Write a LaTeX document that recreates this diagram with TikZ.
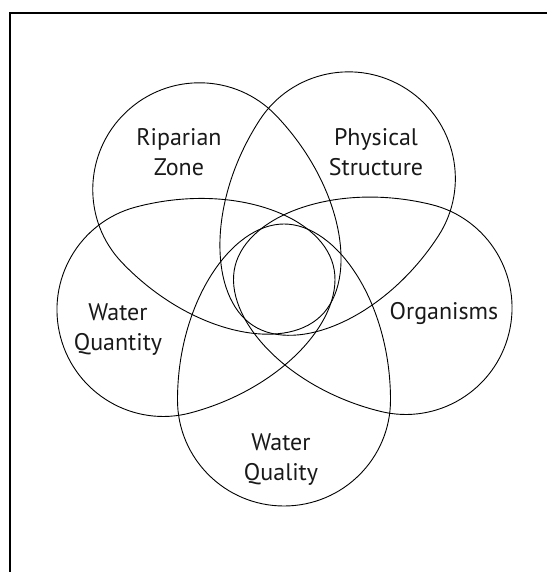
\documentclass[tikz,border=0pt]{standalone}
\usepackage{fontspec}
\setmainfont{PT Sans}
\tikzset{
  petal line/.style={line width=0.9pt},
  petal text/.style={align=center, font=\fontsize{24}{30}\selectfont, text=black!90},
  petal/.pic={
    \draw [petal line] (0,106.5) .. controls (97,106.5) and (176,53) .. (176,0)
      .. controls (176,-53) and (97,-106.5) .. (0,-106.5)
      .. controls (-58.5,-106.5) and (-106,-58.8) .. (-106,0)
      .. controls (-106,58.8) and (-58.5,106.5) .. (0,106.5) -- cycle;
  }
}
\begin{document}
\begin{tikzpicture}[x=1pt,y=-1pt]
    \useasboundingbox (0,0) rectangle (547,572);
    % frame
    \draw [line width=2.5pt] (10,572) -- (10,13) -- (547,13);
    % five petals, tips pointing to the middle
    \pic [rotate=90] at (284,400) {petal};
    \pic [rotate=166.2] at (406,308) {petal};
    \pic [rotate=237] at (349,178) {petal};
    \pic [rotate=313.7] at (199,189) {petal};
    \pic [rotate=14.8] at (163,310) {petal};
    % labels
    \node [petal text] (riparian) at (179,152) {Riparian\\Zone};
    \node [petal text] (physical) at (376,152) {Physical\\Structure};
    \node [petal text] (quantity) at (118,330) {Water\\Quantity};
    \node [petal text] (organisms) at (444,313) {Organisms};
    \node [petal text] (quality) at (281,460) {Water\\Quality};
\end{tikzpicture}
\end{document}
